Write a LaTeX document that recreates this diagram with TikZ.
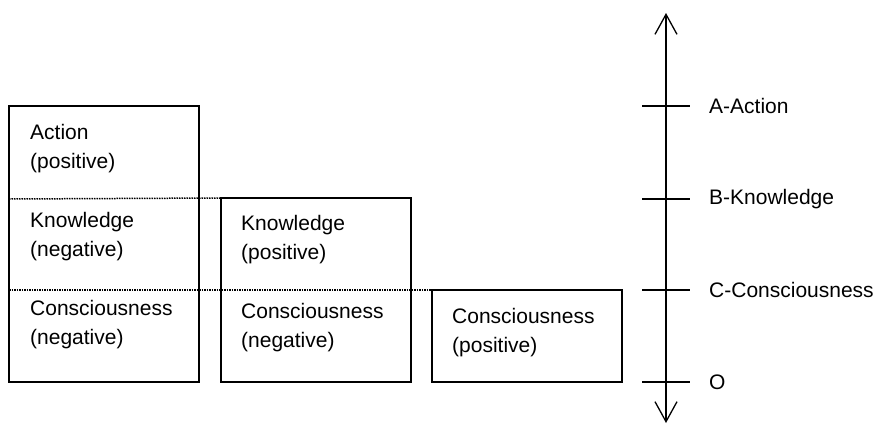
\documentclass[tikz,border=0pt]{standalone}
\usepackage{fontspec}
\setmainfont{Liberation Sans}
\usetikzlibrary{positioning,arrows.meta}
\tikzset{
  barbox/.style={draw,line width=1.5pt,inner sep=0pt,outer sep=0pt,anchor=south west,minimum width=190pt},
  barlbl/.style={anchor=base west,align=left,inner sep=0pt,font=\fontsize{21}{29}\selectfont},
  levelline/.style={line width=1.5pt,densely dotted},
  axisline/.style={{Straight Barb[length=20pt,width=22pt]}-{Straight Barb[length=20pt,width=22pt]},line width=1.3pt},
  axtick/.style={line width=1.5pt},
  axlbl/.style={anchor=west,inner sep=0pt,font=\fontsize{21}{29}\selectfont}
}

\begin{document}
\begin{tikzpicture}[x=1pt,y=-1pt]
  \useasboundingbox (0,0) rectangle (876,426);
  % levels on the axis
  \coordinate (axtop) at (666,13);
  \coordinate (axbot) at (666,423);
  \coordinate (lvlA) at (666,106);
  \coordinate (lvlB) at (666,199);
  \coordinate (lvlC) at (666,290);
  \coordinate (lvlO) at (666,382);
  \draw[axisline] (axbot) -- (axtop);
  \foreach \l/\t in {lvlA/A-Action,lvlB/B-Knowledge,lvlC/C-Consciousness,lvlO/O}{
    \draw[axtick] ([xshift=-24pt]\l) -- ([xshift=24pt]\l);
    \node[axlbl] (\l-lbl) at ([xshift=43pt]\l) {\t};
  }
  % bars
  \node[barbox,minimum height=276pt] (barA) at (9,382) {};
  \node[barbox,minimum height=184pt] (barB) at (221,382) {};
  \node[barbox,minimum height=92pt] (barC) at (432,382) {};
  \draw[levelline] (barA.west |- lvlB) -- (barB.north west);
  \draw[levelline] (barA.west |- lvlC) -- (barC.north west);
  % texts (anchored on the baseline of the second line)
  \node[barlbl] (actA) at (30,168) {Action\\(positive)};
  \node[barlbl] (knwA) at (30,256) {Knowledge\\(negative)};
  \node[barlbl] (conA) at (30,344) {Consciousness\\(negative)};
  \node[barlbl] (knwB) at (241,259) {Knowledge\\(positive)};
  \node[barlbl] (conB) at (241,347) {Consciousness\\(negative)};
  \node[barlbl] (conC) at (452,352) {Consciousness\\(positive)};
\end{tikzpicture}
\end{document}
